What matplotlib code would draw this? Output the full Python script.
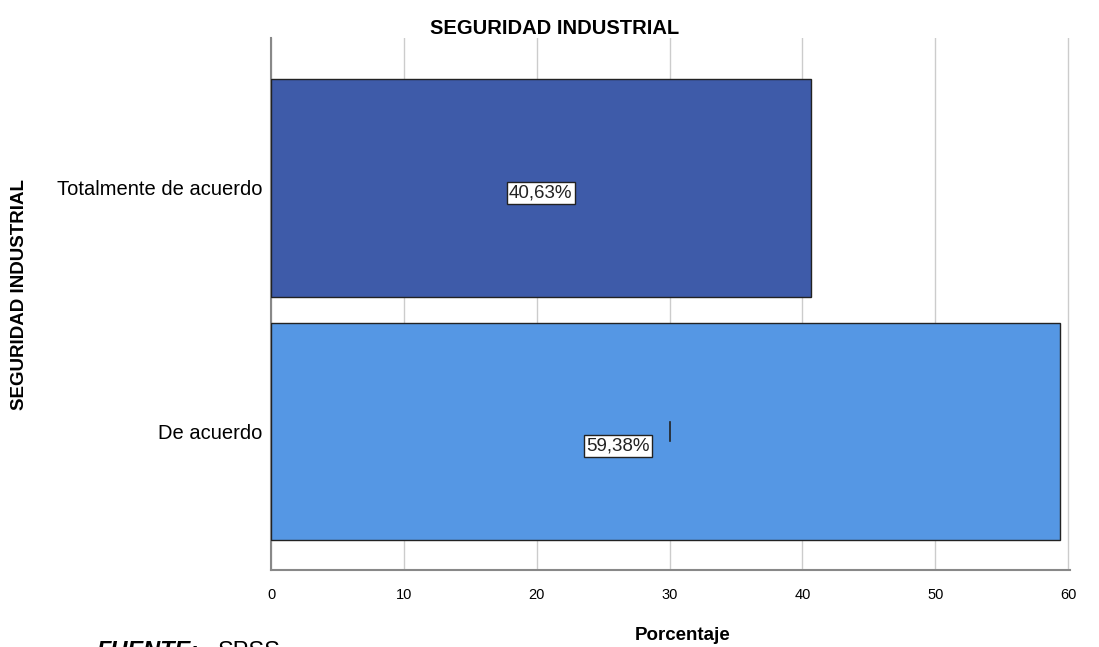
import matplotlib
matplotlib.use("Agg")
import matplotlib.pyplot as plt

categories = ["De acuerdo", "Totalmente de acuerdo"]
values = [59.38, 40.63]
labels = ["59,38%", "40,63%"]
colors = ["#5597e4", "#3e5ba9"]
xticks = [0, 10, 20, 30, 40, 50, 60]

plt.rcParams['font.family'] = ['Liberation Sans', 'DejaVu Sans']

fig = plt.figure(figsize=(10.99, 6.47), dpi=100)
ax = fig.add_axes([271/1099, 1-570/647, (1070-271)/1099, (570-38)/647])

ypos = list(range(len(categories)))
ax.barh(ypos, values, height=0.895, color=colors, edgecolor="#222222", linewidth=1, zorder=3)
ax.set_xlim(0, 60.15)
ax.set_ylim(-0.569, 1.616)
ax.set_xticks(xticks)
ax.set_xticklabels([str(t) for t in xticks], fontsize=10.5)
ax.set_yticks(ypos)
ax.set_yticklabels(categories, fontsize=14.5)
ax.tick_params(axis='y', length=0, pad=6)
ax.tick_params(axis='x', length=0, pad=13)
ax.grid(axis='x', color="#cccccc", linewidth=1, zorder=0)
for s in ["top", "right"]:
    ax.spines[s].set_visible(False)
ax.spines["left"].set_color("#888888")
ax.spines["bottom"].set_color("#888888")
ax.spines["left"].set_linewidth(1.5)
ax.spines["bottom"].set_linewidth(1.5)

# value labels
label_x = [26.1, values[1] / 2]
label_dy = [-0.06, -0.02]
for y, lx, dy, t in zip(ypos, label_x, label_dy, labels):
    ax.text(lx, y + dy, t, ha="center", va="center", fontsize=13.5, color="#222222",
            bbox=dict(boxstyle="square,pad=0.12", fc="white", ec="#222222", lw=1), zorder=5)

# small artifact mark
ax.plot([30, 30], [0.04, -0.04], color="#222222", lw=1.2, zorder=6)

fig.text(555/1099, 1-28/647, "SEGURIDAD INDUSTRIAL", ha="center", va="center",
         fontsize=14.5, fontweight="bold")
fig.text(20/1099, 1-295/647, "SEGURIDAD INDUSTRIAL", ha="center", va="center",
         rotation=90, fontsize=13.5, fontweight="bold")
fig.text(683/1099, 1-635/647, "Porcentaje", ha="center", va="center",
         fontsize=13.5, fontweight="bold")
fig.text(97/1099, 1-652/647, "FUENTE:", ha="left", va="center",
         fontsize=17, fontweight="bold", fontstyle="italic")
fig.text(218/1099, 1-652/647, "SPSS", ha="left", va="center", fontsize=17)

fig.savefig("out.png", dpi=100)
